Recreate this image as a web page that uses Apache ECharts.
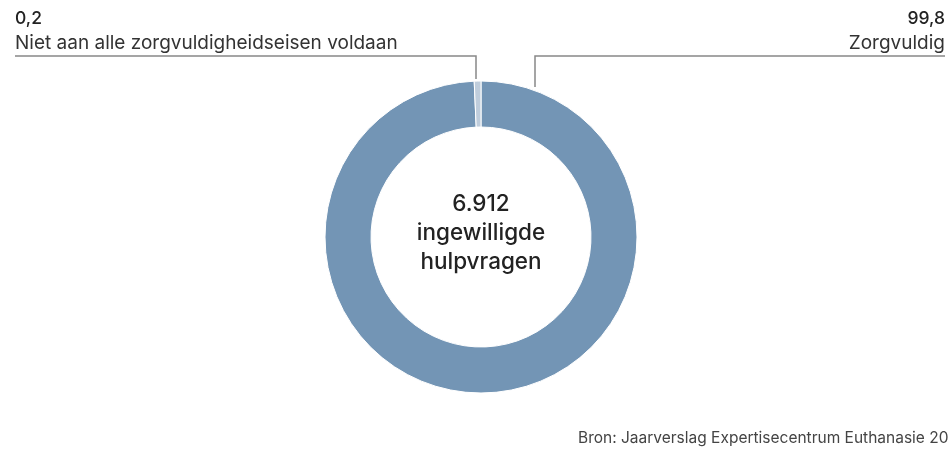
<!DOCTYPE html>
<html>
<head>
<meta charset="utf-8">
<script src="https://cdn.jsdelivr.net/npm/echarts@6/dist/echarts.min.js"></script>
<style>
  html, body { margin: 0; padding: 0; background: #fff; }
  #chart { width: 949px; height: 450px; }
</style>
</head>
<body>
<div id="chart"></div>
<script>
// data
const categories = ["Zorgvuldig", "Niet aan alle zorgvuldigheidseisen voldaan"];
const values = [99.8, 0.2];
const valueLabels = ["99,8", "0,2"];
const colors = ["#7395b5", "#bfcddc"];
const centerLines = ["6.912", "ingewilligde", "hulpvragen"];
const source = "Bron: Jaarverslag Expertisecentrum Euthanasie 20";

const font = "Inter, 'Noto Sans', sans-serif";

const chart = echarts.init(document.getElementById("chart"));

chart.setOption({
  animation: false,
  textStyle: { fontFamily: font },
  graphic: [
    {
      type: "text",
      x: 481,
      y: 233,
      style: {
        text: centerLines.join("\n"),
        align: "center",
        verticalAlign: "middle",
        fontFamily: font,
        fontSize: 22.5,
        fontWeight: 500,
        lineHeight: 29,
        fill: "#222",
      },
    },
    {
      type: "text",
      x: 578,
      y: 438,
      style: {
        text: source,
        align: "left",
        verticalAlign: "middle",
        fontFamily: font,
        fontSize: 15.5,
        fill: "#444",
      },
    },
  ],
  series: [
    {
      type: "pie",
      center: [481, 237],
      radius: [110, 156],
      startAngle: 90,
      clockwise: true,
      minAngle: 2.5,
      avoidLabelOverlap: false,
      itemStyle: { borderColor: "#fff", borderWidth: 1 },
      emphasis: { disabled: true },
      label: {
        show: true,
        formatter: (p) => "{v|" + valueLabels[p.dataIndex] + "}\n{n|" + p.name + "}",
        rich: {
          v: { fontFamily: font, fontSize: 17.5, fontWeight: 500, color: "#222", lineHeight: 24 },
          n: { fontFamily: font, fontSize: 19, color: "#333", lineHeight: 24 },
        },
      },
      labelLine: {
        show: true,
        lineStyle: { color: "#888", width: 1.5 },
      },
      labelLayout: (p) => {
        if (p.dataIndex === 1) {
          return {
            x: 15,
            y: 55,
            align: "left",
            verticalAlign: "bottom",
            labelLinePoints: [[476, 79], [476, 56], [15, 56]],
          };
        }
        return {
          x: 945,
          y: 55,
          align: "right",
          verticalAlign: "bottom",
          labelLinePoints: [[535, 87], [535, 56], [945, 56]],
        };
      },
      data: categories.map((c, i) => ({
        name: c,
        value: values[i],
        itemStyle: { color: colors[i] },
      })),
    },
  ],
});
</script>
</body>
</html>
